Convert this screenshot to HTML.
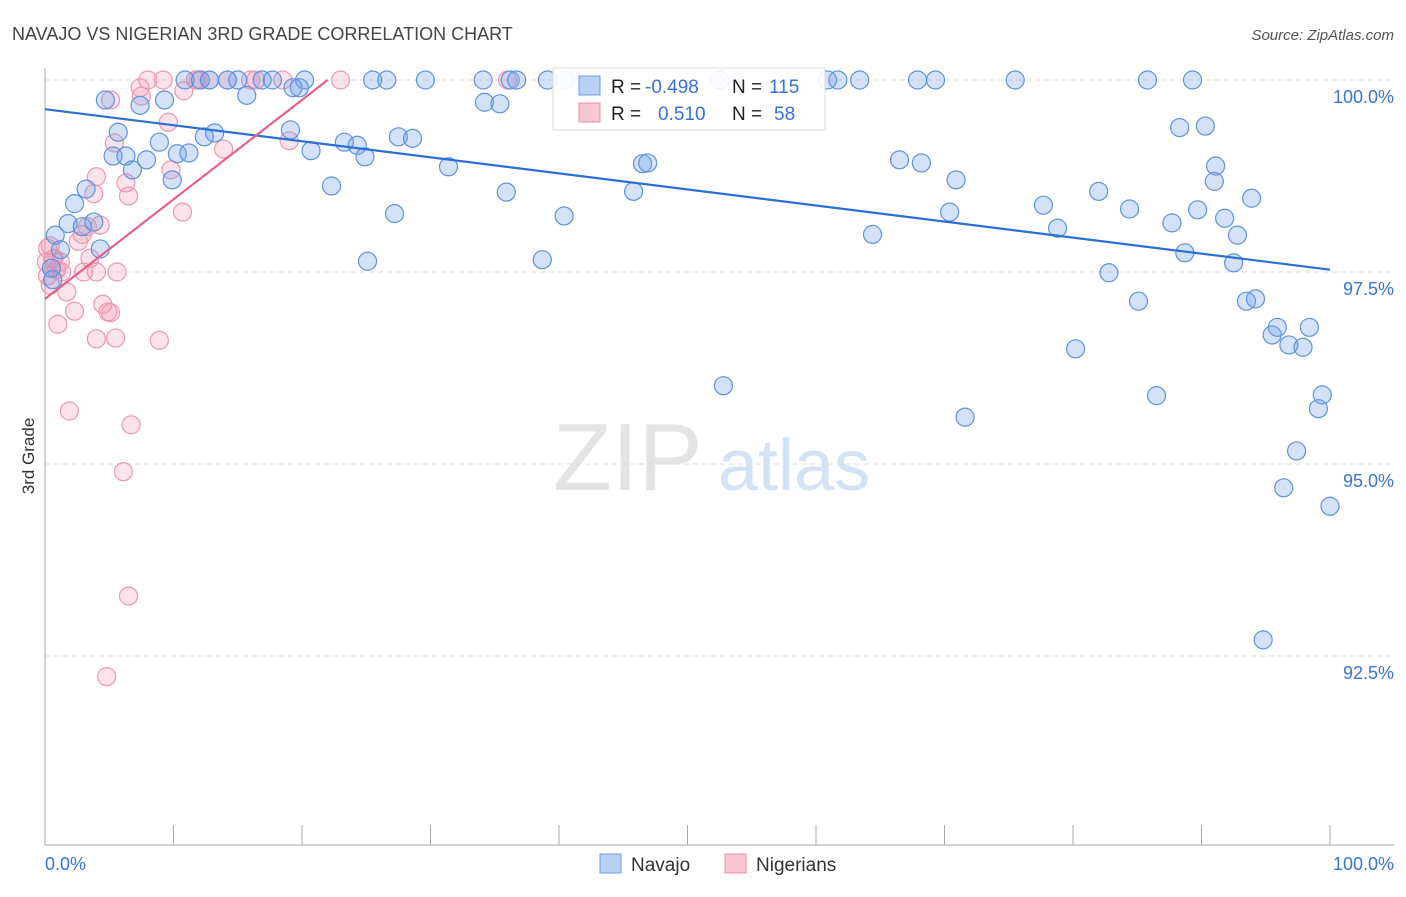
<!DOCTYPE html>
<html><head><meta charset="utf-8">
<style>
body{margin:0;background:#fff;font-family:"Liberation Sans",sans-serif;}
svg text{font-family:"Liberation Sans",sans-serif;}
</style></head>
<body>
<svg id="chart" width="1406" height="892" xmlns="http://www.w3.org/2000/svg">
<text x="12" y="40" font-size="18" fill="#444">NAVAJO VS NIGERIAN 3RD GRADE CORRELATION CHART</text>
<text x="1394" y="40" font-size="15" fill="#555" font-style="italic" text-anchor="end">Source: ZipAtlas.com</text>
<text transform="translate(34,456) rotate(-90)" font-size="17" fill="#333" text-anchor="middle">3rd Grade</text>
<g>
<text x="553" y="490" font-size="96" fill="#e4e4e4" font-family="Liberation Serif,serif">ZIP</text>
<text x="718" y="490" font-size="72" fill="#d4e2f5">atlas</text>
</g>
<g id="grid"></g>
<g id="axes"></g>
<g id="pink"></g>
<g id="blue"></g>
<g id="trends"></g>
<g>
<rect x="553" y="68" width="272" height="62" fill="#fff" fill-opacity="0.9" stroke="#ddd"/>
<rect x="579" y="76" width="21" height="19" fill="#b7d0f3" stroke="#6f9ee0"/>
<rect x="579" y="103" width="21" height="19" fill="#f9c6d4" stroke="#ec8fab"/>
<text x="611" y="93" font-size="19" fill="#222">R =</text>
<text x="645" y="93" font-size="19" fill="#3a73d4">-0.498</text>
<text x="732" y="93" font-size="19" fill="#222">N =</text>
<text x="769" y="93" font-size="19" fill="#3a73d4">115</text>
<text x="611" y="120" font-size="19" fill="#222">R =</text>
<text x="658" y="120" font-size="19" fill="#3a73d4">0.510</text>
<text x="732" y="120" font-size="19" fill="#222">N =</text>
<text x="774" y="120" font-size="19" fill="#3a73d4">58</text>
</g>
<g>
<rect x="600" y="854" width="21" height="19" fill="#b7d0f3" stroke="#6f9ee0"/>
<text x="631" y="871" font-size="19" fill="#333">Navajo</text>
<rect x="725" y="854" width="21" height="19" fill="#f9c6d4" stroke="#ec8fab"/>
<text x="756" y="871" font-size="19" fill="#333">Nigerians</text>
</g>
</svg>
<script>
const navajoX=[4.7,7.4,9.3,5.7,5.3,6.3,7.9,6.8,8.9,10.3,11.2,12.4,13.2,9.9,3.2,2.3,1.8,2.9,3.8,0.8,1.2,4.3,0.6,0.5,
10.9,12.1,12.8,14.2,15.0,16.9,17.7,20.2,25.5,26.6,29.6,34.1,36.2,36.7,39.1,40.5,52.5,60.9,61.7,63.4,67.9,69.3,75.5,85.8,89.3,
15.7,19.3,19.8,34.2,35.4,19.1,20.7,23.3,24.3,24.9,27.5,28.6,31.4,22.3,27.2,25.1,35.9,40.4,38.7,46.5,46.9,45.8,52.8,64.4,66.5,68.2,70.9,70.4,71.6,
77.7,78.8,82.0,84.4,82.8,85.1,80.2,86.5,88.3,90.3,87.7,89.7,91.1,91.0,91.8,92.8,88.7,92.5,93.9,93.5,94.2,95.5,95.9,96.8,97.9,98.4,99.4,99.1,97.4,96.4,100.0,94.8];
const navajoY=[99.74,99.67,99.74,99.32,99.01,99.01,98.96,98.83,99.19,99.04,99.05,99.26,99.31,98.70,98.58,98.39,98.13,98.09,98.15,97.98,97.79,97.80,97.40,97.55,
100,100,100,100,100,100,100,100,100,100,100,100,100,100,100,100,100,100,100,100,100,100,100,100,100,
99.80,99.90,99.90,99.71,99.69,99.35,99.08,99.19,99.15,99.00,99.26,99.24,98.87,98.62,98.26,97.64,98.54,98.23,97.66,98.91,98.92,98.55,96.02,97.99,98.96,98.92,98.70,98.28,95.61,
98.37,98.07,98.55,98.32,97.49,97.12,96.50,95.89,99.38,99.40,98.14,98.31,98.88,98.68,98.20,97.98,97.75,97.62,98.46,97.12,97.15,96.68,96.78,96.55,96.52,96.78,95.90,95.72,95.17,94.69,94.45,92.71];
const nigerX=[0.4,0.7,0.9,0.4,1.0,1.3,1.7,2.3,1.9,2.6,2.9,3.3,3.0,3.5,4.0,4.3,3.8,4.0,4.5,5.1,5.5,4.0,4.9,5.6,5.4,6.3,6.5,5.1,7.4,7.5,6.7,6.1,6.5,4.8,8.9,9.6,9.8,10.7,10.8,
8.0,9.2,11.7,11.9,12.8,14.2,16.0,16.4,18.5,23.0,36.0,13.9,19.0,0.6,0.2,0.1,1.2,0.9,0.2];
const nigerY=[97.84,97.68,97.53,97.33,96.82,97.50,97.24,96.99,95.69,97.90,97.99,98.09,97.50,97.68,97.50,98.11,98.52,98.74,97.08,96.97,96.64,96.63,96.98,97.50,99.18,98.66,98.49,99.74,99.90,99.79,95.51,94.90,93.28,92.23,96.61,99.45,98.83,98.28,99.86,
100,100,100,100,100,100,100,100,100,100,100,99.10,99.21,97.67,97.81,97.63,97.63,97.53,97.45];
const navajoTrend=[[0,99.62],[100,97.53]];
const nigerTrend=[[0,97.15],[22.0,100]];
const yTicks=[100,97.5,95,92.5];
const yTickLabels=["100.0%","97.5%","95.0%","92.5%"];
const xTicks=[0,10,20,30,40,50,60,70,80,90,100];

const NS="http://www.w3.org/2000/svg";
const sx=v=>45+v*12.85;
const sy=v=>80+(100-v)*76.8;
function mk(tag,attrs,parent){const e=document.createElementNS(NS,tag);for(const k in attrs)e.setAttribute(k,attrs[k]);parent.appendChild(e);return e;}
const grid=document.getElementById('grid'),axes=document.getElementById('axes');
yTicks.forEach((t,i)=>{
  const l=mk('line',{x1:45,x2:1394,y1:sy(t),y2:sy(t),stroke:'#ddd','stroke-dasharray':'5,4'},grid);
  
  
  const tx=mk('text',{x:1394,y:sy(t)+23,'font-size':18,fill:'#3a73d4','text-anchor':'end'},grid);
  tx.textContent=yTickLabels[i];
  
  
});
const ya=mk('line',{x1:45,x2:45,y1:68,y2:845,stroke:'#aaa'},axes);


const xa=mk('line',{x1:45,x2:1394,y1:845,y2:845,stroke:'#aaa'},axes);


xTicks.forEach(t=>{
  const l=mk('line',{x1:sx(t),x2:sx(t),y1:825,y2:845,stroke:'#aaa'},axes);
  
  
});
const xl0=mk('text',{x:45,y:870,'font-size':18,fill:'#3a73d4'},axes);
xl0.textContent="0.0%";


const xl1=mk('text',{x:1394,y:870,'font-size':18,fill:'#3a73d4','text-anchor':'end'},axes);
xl1.textContent="100.0%";



const pink=document.getElementById('pink'),blue=document.getElementById('blue');
nigerX.forEach((x,i)=>{
  const c=mk('circle',{cx:sx(x),cy:sy(nigerY[i]),r:9,fill:'rgba(243,150,178,0.28)',stroke:'#ee97b0','stroke-width':1.2},pink);
  
  
});
navajoX.forEach((x,i)=>{
  const c=mk('circle',{cx:sx(x),cy:sy(navajoY[i]),r:9,fill:'rgba(110,160,232,0.3)',stroke:'#5f92dd','stroke-width':1.2},blue);
  
  
});
const tr=document.getElementById('trends');
const bl=mk('line',{x1:sx(navajoTrend[0][0]),y1:sy(navajoTrend[0][1]),x2:sx(navajoTrend[1][0]),y2:sy(navajoTrend[1][1]),stroke:'#2b6fd6','stroke-width':2.2},tr);


const pl=mk('line',{x1:sx(nigerTrend[0][0]),y1:sy(nigerTrend[0][1]),x2:sx(nigerTrend[1][0]),y2:sy(nigerTrend[1][1]),stroke:'#e8608a','stroke-width':2.2},tr);


</script>
</body></html>
